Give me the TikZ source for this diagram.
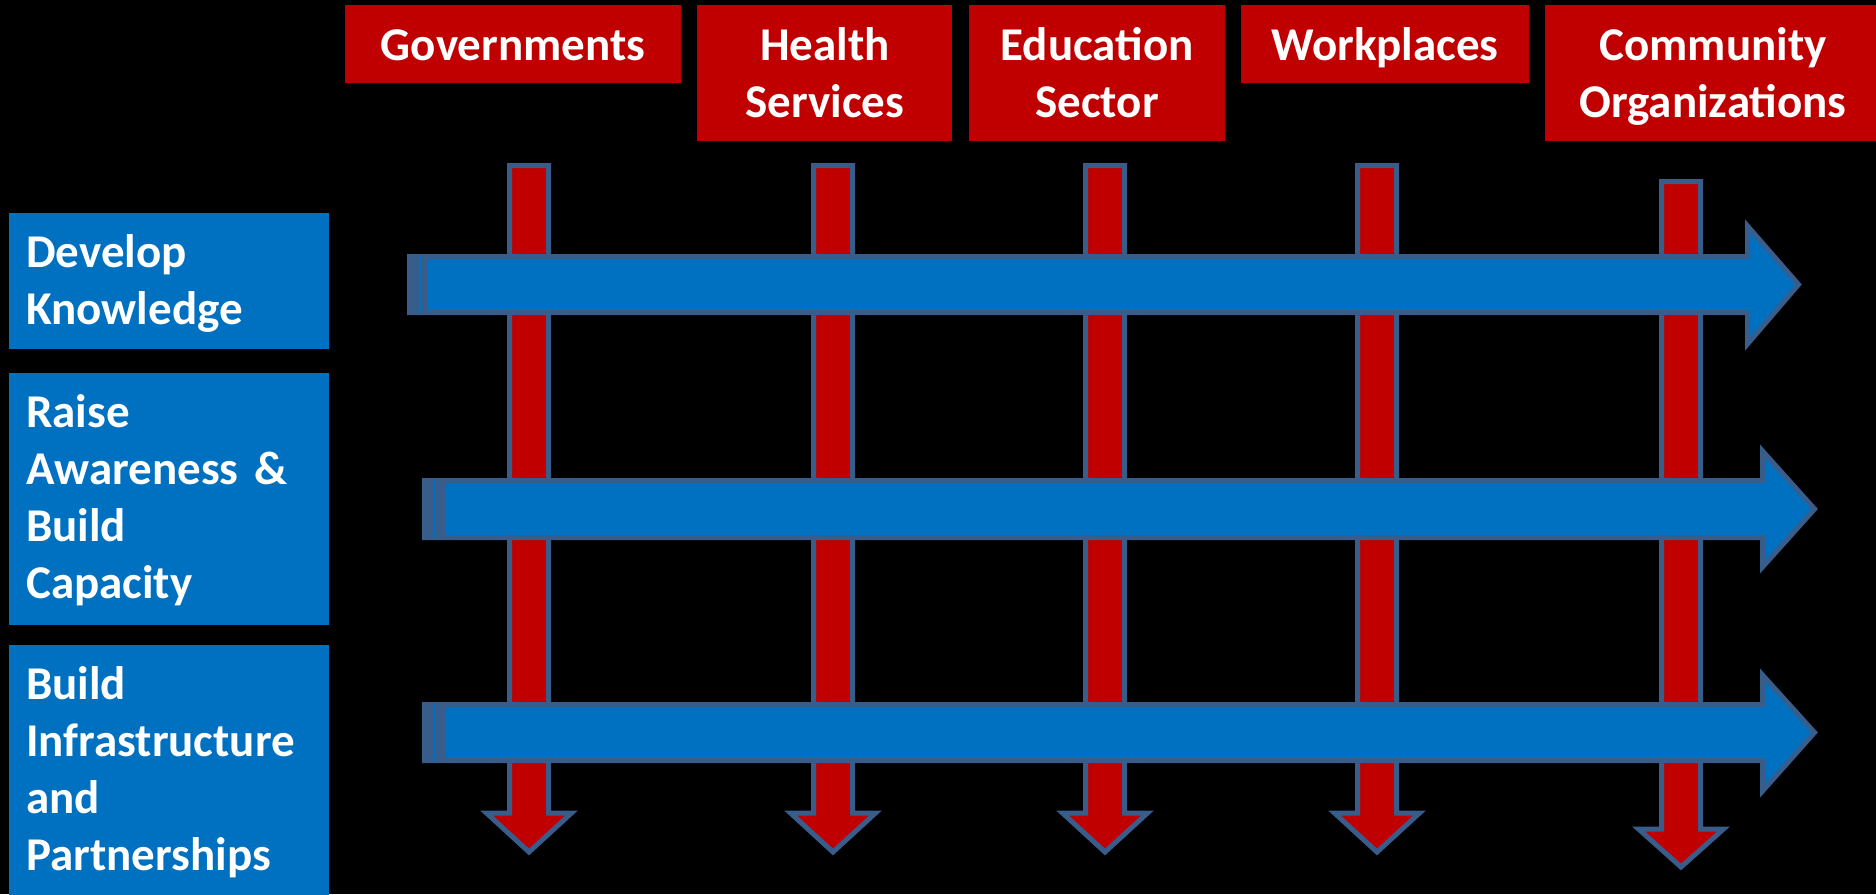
\documentclass[tikz,border=0pt]{standalone}
\usepackage{fontspec}
\setmainfont{Carlito}
\definecolor{cred}{HTML}{C00000}
\definecolor{cblue}{HTML}{0070C0}
\definecolor{cedge}{HTML}{385D8A}
\tikzset{
  redbox/.style={fill=cred, inner sep=0pt, anchor=north west},
  bluebox/.style={fill=cblue, inner sep=0pt, anchor=north west},
  lbl/.style={text=white, inner sep=0pt, font=\bfseries\fontsize{47}{57}\selectfont},
  toplbl/.style={lbl, align=center, text width=340pt, anchor=base},
  sidelbl/.style={lbl, align=left, text width=300pt, anchor=base west},
  redarrow/.style={fill=cred, draw=cedge, line width=5pt, line join=miter},
  bluearrow/.style={fill=cblue, draw=cedge, line width=5pt, line join=miter},
  stripeband/.style={fill=cedge, draw=none},
  stripeline/.style={draw=cblue, line width=1.8pt}
}
% vertical arrow: #1 cx, #2 top, #3 head base, #4 tip
\newcommand\mydownarrow[4]{%
  \path[redarrow] ({#1-19.5},#2) -- ({#1+19.5},#2) -- ({#1+19.5},#3) -- ({#1+42.5},#3)
    -- (#1,#4) -- ({#1-42.5},#3) -- ({#1-19.5},#3) -- cycle;}
% horizontal arrow: #1 left, #2 top, #3 bottom, #4 head base x, #5 head top, #6 head bottom, #7 tip x
\newcommand\myrightarrow[7]{%
  \path[bluearrow] (#1,#2) -- (#4,#2) -- (#4,#5) -- (#7,{(#2+#3)/2}) -- (#4,#6)
    -- (#4,#3) -- (#1,#3) -- cycle;}
\begin{document}
\begin{tikzpicture}[x=1pt,y=-1pt]
\useasboundingbox (0,0) rectangle (1876,894);
\fill[black] (0,0) rectangle (1876,894);
\begin{scope}
\clip (0,0) rectangle (1876,894);
% top labels
\node[redbox, minimum width=336pt, minimum height=78pt] (gov) at (345,5) {};
\node[redbox, minimum width=255pt, minimum height=136pt] (hea) at (697,5) {};
\node[redbox, minimum width=256pt, minimum height=136pt] (edu) at (969,5) {};
\node[redbox, minimum width=288pt, minimum height=78pt] (wor) at (1241,5) {};
\node[redbox, minimum width=340pt, minimum height=136pt] (com) at (1545,5) {};
\node[toplbl] (govt) at (513,60) {Governments};
\node[toplbl] (heat) at (825,60) {Health\\Services};
\node[toplbl] (edut) at (1097,60) {Education\\Sector};
\node[toplbl] (wort) at (1385,60) {Workplaces};
\node[toplbl] (comt) at (1713,60) {Community\\Organizations};
% side labels
\node[bluebox, minimum width=320pt, minimum height=136pt] (dev) at (9,213) {};
\node[bluebox, minimum width=320pt, minimum height=252pt] (rai) at (9,373) {};
\node[bluebox, minimum width=320pt, minimum height=255pt] (bui) at (9,645) {};
\node[sidelbl] (devt) at (26,267) {Develop\\Knowledge};
\node[sidelbl] (rait) at (26,427) {Raise\\Awareness \&\\Build\\Capacity};
\node[sidelbl] (buit) at (26,699) {Build\\Infrastructure\\and\\Partnerships};
% red vertical arrows
\mydownarrow{529}{165.5}{813}{852}
\mydownarrow{833}{165.5}{813}{852}
\mydownarrow{1105}{165.5}{813}{852}
\mydownarrow{1377}{165.5}{813}{852}
\mydownarrow{1681}{181.5}{829}{867}
% blue horizontal arrows
\myrightarrow{409.5}{256.5}{312.5}{1747.5}{226}{344}{1798.5}
\myrightarrow{424.5}{480.5}{537.5}{1762.5}{451}{567}{1814.5}
\myrightarrow{424.5}{704.5}{760.5}{1762.5}{675}{791}{1814.5}
% stripes at the left ends
\fill[stripeband] (407,254) rectangle (428,315);
\draw[stripeline] (420,256) -- (420,313);
\fill[stripeband] (422,478) rectangle (445,540);
\draw[stripeline] (435,480) -- (435,538);
\fill[stripeband] (422,702) rectangle (445,763);
\draw[stripeline] (435,704) -- (435,761);
\end{scope}
\end{tikzpicture}
\end{document}
